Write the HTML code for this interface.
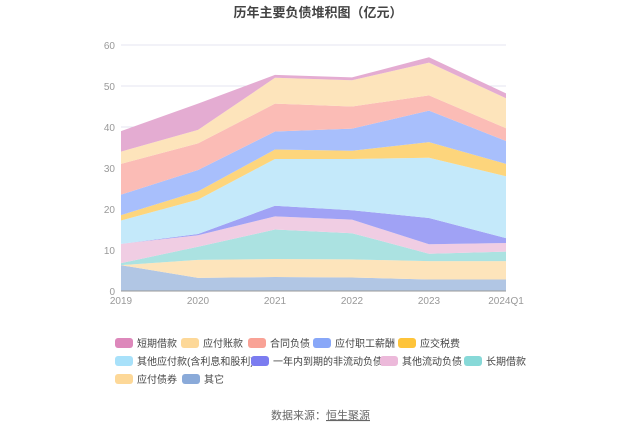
<!DOCTYPE html>
<html><head><meta charset="utf-8">
<style>
html,body{margin:0;padding:0;background:#fff;}
body{width:637px;height:431px;overflow:hidden;font-family:"Liberation Sans","Noto Sans CJK SC",sans-serif;}
</style></head>
<body>
<svg id="chart" width="637" height="431" viewBox="0 0 637 431" xmlns="http://www.w3.org/2000/svg" font-family="Liberation Sans, Noto Sans CJK SC, sans-serif">
<rect width="637" height="431" fill="#fff"/>
<text x="318" y="17" text-anchor="middle" font-size="13" font-weight="bold" fill="#444">历年主要负债堆积图（亿元）</text>
<g id="grid"></g>
<g id="areas"></g>
<g id="axes"></g>
<g id="legend"></g>
<text x="271" y="419" font-size="11" fill="#666">数据来源：<tspan text-decoration="underline">恒生聚源</tspan></text>
</svg>
<script>
const categories = ["2019","2020","2021","2022","2023","2024Q1"];
const yTicks = [0,10,20,30,40,50,60];
const seriesNames = ["其它","应付债券","长期借款","其他流动负债","一年内到期的非流动负债","其他应付款(含利息和股利)","应交税费","应付职工薪酬","合同负债","应付账款","短期借款"];
const other = [6.3,3.2,3.4,3.3,2.8,2.8];
const bonds = [0,4.4,4.4,4.4,4.5,4.5];
const longLoans = [0.5,3.2,7.2,6.4,1.8,2.3];
const otherCurrent = [4.7,2.8,3.2,3.3,2.3,2.1];
const dueWithinYear = [0,0.3,2.6,2.3,6.4,1.2];
const otherPayables = [5.7,8.4,11.4,12.5,14.7,15.1];
const taxes = [1.3,2.0,2.3,2.0,3.8,3.0];
const salaries = [5.0,5.2,4.4,5.4,7.7,5.6];
const contractLiab = [7.5,6.5,6.8,5.4,3.7,3.1];
const accountsPayable = [3.0,3.3,6.3,6.4,8.0,7.3];
const shortLoans = [5.0,6.4,0.7,0.7,1.3,1.2];

const seriesValues = [other,bonds,longLoans,otherCurrent,dueWithinYear,otherPayables,taxes,salaries,contractLiab,accountsPayable,shortLoans];
const fills = ["#b1c6e4","#fde4bb","#abe2e1","#f0cde3","#a0a2f5","#c4e9fa","#fdd57c","#a8bffc","#fbbcb6","#fde4bb","#e4acd2"];
const swatch = ["#8aaad9","#fdd898","#87d9d8","#ecb9da","#7b7cf0","#a8e1fa","#fec43a","#88a7f8","#f9a296","#fdd898","#dd88bb"];
const slugs = ["other","bonds-payable","long-term-loans","other-current-liabilities","current-portion-noncurrent","other-payables","taxes-payable","salaries-payable","contract-liabilities","accounts-payable","short-term-loans"];

const X0=121, X1=506, Y0=291, Y1=45, YMAX=60;
const x = i => X0 + i*(X1-X0)/(categories.length-1);
const y = v => Y0 - v*(Y0-Y1)/YMAX;
const NS="http://www.w3.org/2000/svg";
function mk(tag, attrs){const e=document.createElementNS(NS,tag);for(const k in attrs)e.setAttribute(k,attrs[k]);return e;}

const grid=document.getElementById('grid'), axes=document.getElementById('axes'), areas=document.getElementById('areas'), legend=document.getElementById('legend');
yTicks.forEach(t=>{
  if(t>0){const l=mk('line',{x1:X0,x2:X1,y1:y(t),y2:y(t),stroke:'#e6e6f0','stroke-width':1});
  
  
  grid.appendChild(l);}
  const tx=mk('text',{x:115,y:y(t)+4,'text-anchor':'end','font-size':10,fill:'#999'});
  tx.textContent=t;
  
  
  axes.appendChild(tx);
});
categories.forEach((c,i)=>{
  const tx=mk('text',{x:x(i),y:304,'text-anchor':'middle','font-size':10,fill:'#999'});
  tx.textContent=c;
  
  
  axes.appendChild(tx);
});
const ax=mk('line',{x1:X0,x2:X1,y1:Y0,y2:Y0,stroke:'#999','stroke-width':1});


axes.appendChild(ax);

let base=categories.map(()=>0);
seriesValues.forEach((vals,s)=>{
  const top=base.map((b,i)=>b+vals[i]);
  let d='M'+categories.map((_,i)=>x(i)+','+y(top[i])).join('L');
  for(let i=categories.length-1;i>=0;i--) d+='L'+x(i)+','+y(base[i]);
  d+='Z';
  const p=mk('path',{d:d,fill:fills[s],stroke:'none'});
  
  
  areas.appendChild(p);
  base=top;
});

// legend order: top series first
const legendOrder=[10,9,8,7,6,5,4,3,2,1,0];
const legendPos=[[115,343],[181,343],[248,343],[313,343],[398,343],[115,361],[251,361],[380,361],[464,361],[115,379],[182,379]];
legendOrder.forEach((s,k)=>{
  const [lx,ly]=legendPos[k];
  const g=mk('g',{});
  
  
  g.appendChild(mk('rect',{x:lx,y:ly-5,width:18,height:10,rx:3,fill:swatch[s]}));
  const t=mk('text',{x:lx+22,y:ly+4,'font-size':10,fill:'#444'});
  t.textContent=seriesNames[s];
  g.appendChild(t);
  legend.appendChild(g);
});
</script>
</body></html>
